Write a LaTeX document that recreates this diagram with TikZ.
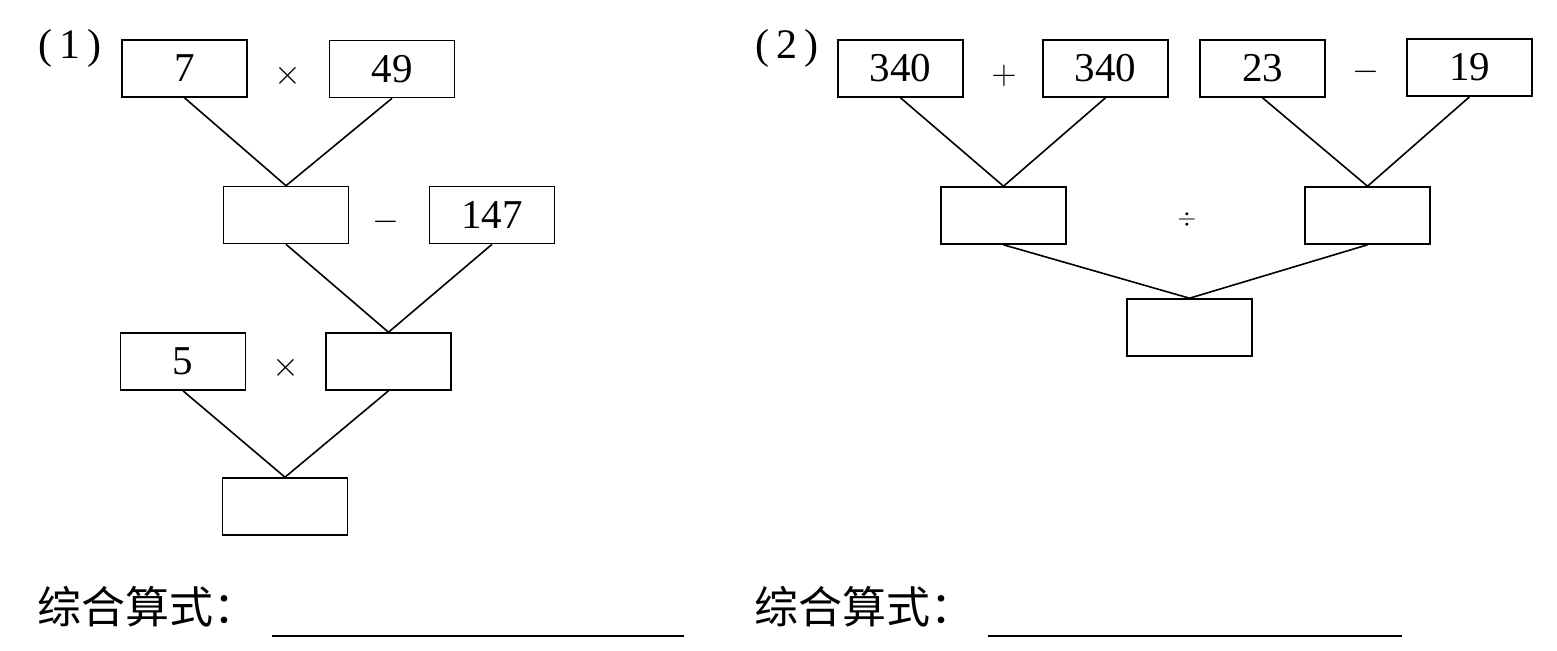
\documentclass[tikz,border=0pt]{standalone}
\usepackage{fontspec}
\setmainfont{Liberation Serif}
\newfontfamily\cjk{Noto Sans CJK SC}
\usepackage{tikz}
\usetikzlibrary{positioning}

\begin{document}
\begin{tikzpicture}[x=0.5pt, y=-0.5pt]
\tikzstyle{numbox} = [rectangle, draw=black, line width=0.8pt, minimum width=62.5pt, minimum height=28.5pt, inner sep=0pt, font=\fontsize{20.5}{24}\selectfont]
\tikzstyle{op} = [inner sep=0pt, font=\fontsize{17}{20}\selectfont]
\tikzstyle{link} = [line width=0.8pt]
\tikzstyle{tag} = [inner sep=0pt, font=\fontsize{21}{24}\selectfont]
\tikzstyle{formula} = [inner sep=0pt, anchor=west, font=\cjk\fontsize{22}{26}\selectfont]

\useasboundingbox (0,0) rectangle (1557,650);

% (1)
\node (lab1) [tag] at (70,48) {(\,1\,)};
\node (b7) [numbox] at (184.5,68.5) {7};
\node (b49) [numbox] at (392,69) {49};
\node (m1) [numbox] at (286,215) {};
\node (b147) [numbox] at (492,215) {147};
\node (b5) [numbox] at (183,361.5) {5};
\node (m2) [numbox] at (388.5,361.5) {};
\node (r1) [numbox] at (285,506.5) {};
\node (op1) [op] at (288,76) {$\times$};
\node (op2) [op] at (386,222) {$-$};
\node (op3) [op] at (286,368) {$\times$};

\draw [link] (b7.south) -- (m1.north);
\draw [link] (b49.south) -- (m1.north);
\draw [link] (m1.south) -- (m2.north);
\draw [link] (b147.south) -- (m2.north);
\draw [link] (b5.south) -- (r1.north);
\draw [link] (m2.south) -- (r1.north);

% (2)
\node (lab2) [tag] at (787,48) {(\,2\,)};
\node (a1) [numbox] at (900.5,68.5) {340};
\node (a2) [numbox] at (1105.5,68.5) {340};
\node (a3) [numbox] at (1262.5,68.5) {23};
\node (a4) [numbox] at (1469.5,67.5) {19};
\node (n1) [numbox] at (1003.5,215.5) {};
\node (n2) [numbox] at (1367.5,215.5) {};
\node (res) [numbox] at (1189.5,327.5) {};
\node (op4) [op] at (1004,76) {$+$};
\node (op5) [op] at (1366,72) {$-$};
\node (op6) [op, font=\fontsize{12}{14}\selectfont] at (1187,219) {$\div$};

\draw [link] (a1.south) -- (n1.north);
\draw [link] (a2.south) -- (n1.north);
\draw [link] (a3.south) -- (n2.north);
\draw [link] (a4.south) -- (n2.north);
\draw [link] (n1.south) -- (res.north);
\draw [link] (n2.south) -- (res.north);

% answer lines
\node (f1) [formula] at (37,607) {综合算式：};
\node (f2) [formula] at (754,607) {综合算式：};
\coordinate (u1a) at (272,636);
\coordinate (u1b) at (684,636);
\coordinate (u2a) at (988,636);
\coordinate (u2b) at (1402,636);
\draw [link] (u1a) -- (u1b);
\draw [link] (u2a) -- (u2b);
\end{tikzpicture}
\end{document}
